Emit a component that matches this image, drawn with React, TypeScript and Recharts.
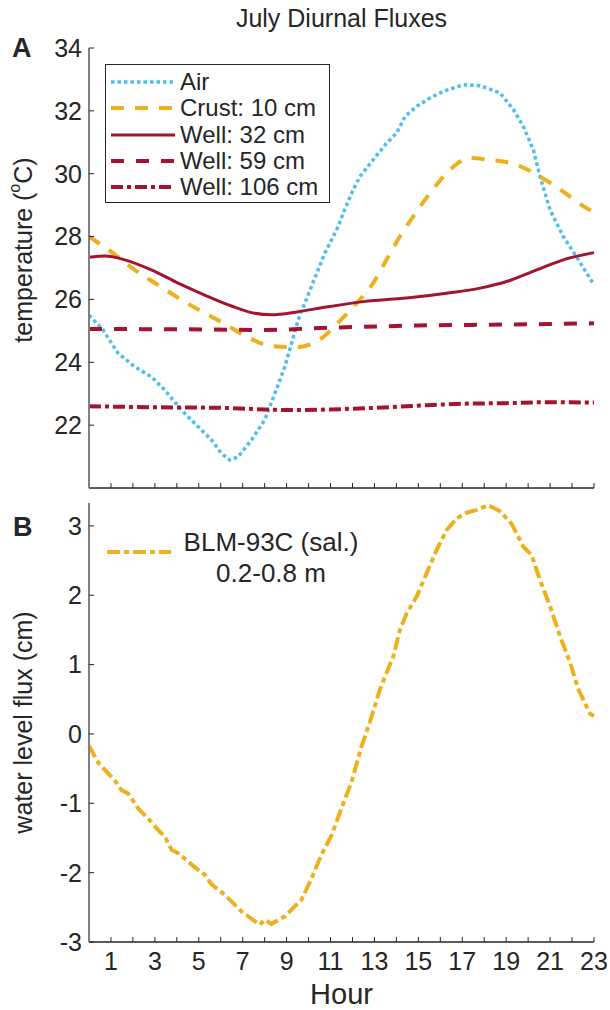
import React from 'react';
import { LineChart, Line, XAxis, YAxis, Label } from 'recharts';

const FONT = '"Liberation Sans", Arial, Helvetica, sans-serif';
const INK = '#262626';
const AXIS_GRAY = '#808080';
const SKY = '#4DBEEE';
const GOLD = '#EDB120';
const WINE = '#A2142F';

// axis ticks
const hourTicks = [0, 1, 2, 3, 4, 5, 6, 7, 8, 9, 10, 11, 12, 13, 14, 15, 16, 17, 18, 19, 20, 21, 22, 23];
const tempTicks = [22, 24, 26, 28, 30, 32, 34];
const fluxTicks = [-3, -2, -1, 0, 1, 2, 3];

// panel A — temperatures (°C)
const airHour = [0, 0.64, 1.32, 2.08, 2.84, 3.45, 4.21, 4.97, 5.58, 6.03, 6.41, 6.79, 7.4, 8.0, 8.46, 8.92, 9.53, 10.13, 10.74, 11.35, 11.58, 12.03, 12.34, 12.94, 13.55, 14.01, 14.39, 14.92, 15.53, 16.13, 17.05, 17.81, 18.72, 19.33, 19.78, 20.24, 20.54, 21.0, 21.6, 22.2, 23];
const airTemp = [25.5, 25.03, 24.29, 23.86, 23.54, 23.12, 22.48, 21.95, 21.53, 21.1, 20.89, 20.99, 21.53, 22.16, 23.0, 23.86, 25.35, 26.41, 27.47, 28.32, 28.75, 29.49, 29.91, 30.44, 30.97, 31.29, 31.82, 32.14, 32.41, 32.62, 32.83, 32.8, 32.57, 32.04, 31.5, 30.76, 29.91, 28.85, 28.0, 27.36, 26.46];

const crustHour = [0, 1.2, 2.08, 3.1, 4.09, 5.15, 6.14, 7.17, 8.27, 9.41, 10.52, 11.43, 12.19, 12.94, 13.55, 14.16, 14.77, 15.53, 16.29, 17.35, 18.26, 19.48, 20.54, 21.6, 22.67, 23];
const crustTemp = [28.0, 27.42, 26.94, 26.48, 26.04, 25.61, 25.24, 24.82, 24.52, 24.48, 24.73, 25.32, 25.88, 26.52, 27.26, 28.0, 28.64, 29.38, 30.02, 30.5, 30.44, 30.28, 29.91, 29.43, 28.9, 28.78];

const well32Hour = [0, 0.72, 1.63, 2.84, 4.06, 5.27, 6.49, 7.4, 8.31, 9.53, 10.74, 12.49, 14.77, 16.29, 17.81, 19.02, 20.39, 21.6, 23];
const well32Temp = [27.34, 27.38, 27.26, 26.94, 26.52, 26.14, 25.79, 25.58, 25.51, 25.61, 25.75, 25.93, 26.07, 26.2, 26.36, 26.57, 26.94, 27.26, 27.49];

const well59Hour = [0, 4, 8, 11, 15, 19, 23];
const well59Temp = [25.06, 25.05, 25.03, 25.1, 25.17, 25.2, 25.24];

const well106Hour = [0, 3, 6, 8, 9, 11, 13, 15, 17, 19, 21, 23];
const well106Temp = [22.6, 22.57, 22.55, 22.5, 22.48, 22.5, 22.55, 22.62, 22.68, 22.7, 22.73, 22.72];

// panel B — water level flux (cm)
const blmHour = [0, 0.41, 1.17, 1.48, 1.78, 2.23, 2.84, 3.07, 3.45, 3.76, 4.06, 4.97, 5.27, 5.58, 6.19, 6.95, 7.55, 7.78, 8.0, 8.31, 8.92, 9.68, 10.14, 10.59, 11.05, 11.5, 11.96, 12.42, 12.79, 13.25, 13.55, 13.86, 14.16, 14.47, 14.92, 15.38, 15.83, 16.29, 16.75, 17.2, 17.66, 18.19, 18.72, 19.25, 19.78, 20.16, 20.54, 21.0, 21.45, 21.91, 22.29, 22.82, 23];
const blmFlux = [-0.17, -0.41, -0.67, -0.81, -0.86, -1.07, -1.27, -1.36, -1.48, -1.67, -1.72, -1.96, -2.03, -2.17, -2.32, -2.56, -2.7, -2.75, -2.68, -2.74, -2.63, -2.39, -2.08, -1.74, -1.46, -1.07, -0.69, -0.17, 0.17, 0.64, 0.88, 1.12, 1.5, 1.74, 1.98, 2.32, 2.65, 2.94, 3.11, 3.19, 3.23, 3.3, 3.21, 3.03, 2.7, 2.58, 2.22, 1.84, 1.41, 1.03, 0.64, 0.29, 0.26];

const zip = (hs: number[], vs: number[]) => hs.map((h, i) => ({ h, v: vs[i] }));

const tempSeries = [
  { name: 'Air', data: zip(airHour, airTemp), color: SKY, width: 3.5, dash: '3.5 3', type: 'linear' },
  { name: 'Crust: 10 cm', data: zip(crustHour, crustTemp), color: GOLD, width: 4, dash: '13 11', type: 'monotone' },
  { name: 'Well: 32 cm', data: zip(well32Hour, well32Temp), color: WINE, width: 3, dash: undefined, type: 'monotone' },
  { name: 'Well: 59 cm', data: zip(well59Hour, well59Temp), color: WINE, width: 4, dash: '13 12', type: 'monotone' },
  { name: 'Well: 106 cm', data: zip(well106Hour, well106Temp), color: WINE, width: 4, dash: '12 4 4 4', type: 'monotone' },
];

const blmSeries = { name: 'BLM-93C (sal.)', sub: '0.2-0.8 m', data: zip(blmHour, blmFlux), color: GOLD, width: 4, dash: '13 4 5 4' };

const tickStyle = { fill: INK, fontSize: 25, fontFamily: FONT };

const TempLabel = () => {
  const cx = 23;
  const cy = 250;
  return (
    <text x={cx} y={cy} transform={`rotate(-90 ${cx} ${cy})`} textAnchor="middle" dominantBaseline="central"
      fill={INK} fontSize={25} fontFamily={FONT}>
      temperature (<tspan dy={-9} fontSize={16}>o</tspan><tspan dy={9}>C)</tspan>
    </text>
  );
};

const FluxLabel = ({ viewBox }: any) => {
  const cx = 23;
  const cy = viewBox.y + viewBox.height / 2;
  return (
    <text x={cx} y={cy} transform={`rotate(-90 ${cx} ${cy})`} textAnchor="middle" dominantBaseline="central"
      fill={INK} fontSize={25} fontFamily={FONT}>
      water level flux (cm)
    </text>
  );
};

const HourLabel = ({ viewBox }: any) => (
  <text x={viewBox.x + viewBox.width / 2} y={viewBox.y + 52} textAnchor="middle" dominantBaseline="central"
    fill={INK} fontSize={29} fontFamily={FONT}>
    Hour
  </text>
);

const Sample = ({ color, width, dash }: any) => (
  <svg width={64} height={10} style={{ display: 'block', flexShrink: 0 }}>
    <line x1={0} y1={5} x2={64} y2={5} stroke={color} strokeWidth={width} strokeDasharray={dash} />
  </svg>
);

export default function App() {
  return (
    <div style={{ position: 'absolute', left: 0, top: 0, width: 610, height: 1010, background: '#fff', fontFamily: FONT, color: INK }}>

      {/* title + panel letters */}
      <div style={{ position: 'absolute', left: 0, width: 683, top: 4, textAlign: 'center', fontSize: 25, lineHeight: '28px' }}>
        July Diurnal Fluxes
      </div>
      <div style={{ position: 'absolute', left: 12, top: 33, fontSize: 27, fontWeight: 700, lineHeight: '30px' }}>A</div>
      <div style={{ position: 'absolute', left: 13, top: 512, fontSize: 27, fontWeight: 700, lineHeight: '30px' }}>B</div>

      {/* ── Panel A ── */}
      <div style={{ position: 'absolute', left: 0, top: 0 }}>
        <LineChart width={610} height={500} margin={{ top: 48, right: 16, bottom: 0, left: 0 }}>
          <XAxis type="number" dataKey="h" domain={[0, 23]} ticks={hourTicks} interval={0} height={12}
            tickSize={-5} tickFormatter={() => ''} axisLine={{ stroke: INK, strokeWidth: 1.5 }} tickLine={{ stroke: INK }} />
          <YAxis type="number" domain={[20, 34]} ticks={tempTicks} interval={0} width={89}
            tickSize={-5} tickMargin={12} tick={tickStyle}
            axisLine={{ stroke: AXIS_GRAY, strokeWidth: 2 }} tickLine={{ stroke: INK }}>
            <Label content={<TempLabel />} />
          </YAxis>
          {tempSeries.map(s => (
            <Line key={s.name} data={s.data} dataKey="v" type={s.type as any} stroke={s.color} strokeWidth={s.width}
              strokeDasharray={s.dash} dot={false} activeDot={false} isAnimationActive={false} />
          ))}
        </LineChart>
      </div>

      {/* legend A */}
      <div style={{ position: 'absolute', left: 105, top: 64, width: 223, height: 137, border: `1px solid ${INK}`, background: '#fff' }}>
        {tempSeries.map((s, i) => (
          <div key={s.name} style={{ position: 'absolute', left: 5, top: 4 + i * 26.3, height: 26, display: 'flex', alignItems: 'center', gap: 5, fontSize: 24, whiteSpace: 'nowrap' }}>
            <Sample color={s.color} width={s.width} dash={s.dash} />
            <span>{s.name}</span>
          </div>
        ))}
      </div>

      {/* ── Panel B ── */}
      <div style={{ position: 'absolute', left: 0, top: 490 }}>
        <LineChart width={610} height={520} margin={{ top: 13, right: 16, bottom: 0, left: 0 }}>
          <XAxis type="number" dataKey="h" domain={[0, 23]} ticks={hourTicks} interval={0} height={68}
            tickSize={-5} tickMargin={15} tick={tickStyle}
            tickFormatter={(v: number) => (v % 2 === 1 ? String(v) : '')}
            axisLine={{ stroke: INK, strokeWidth: 1.5 }} tickLine={{ stroke: INK }}>
            <Label content={<HourLabel />} />
          </XAxis>
          <YAxis type="number" domain={[-3, 3.33]} ticks={fluxTicks} interval={0} width={89}
            tickSize={-5} tickMargin={12} tick={tickStyle}
            axisLine={{ stroke: AXIS_GRAY, strokeWidth: 2 }} tickLine={{ stroke: INK }}>
            <Label content={<FluxLabel />} />
          </YAxis>
          <Line data={blmSeries.data} dataKey="v" type="linear" stroke={blmSeries.color} strokeWidth={blmSeries.width}
            strokeDasharray={blmSeries.dash} dot={false} activeDot={false} isAnimationActive={false} />
        </LineChart>
      </div>

      {/* legend B */}
      <div style={{ position: 'absolute', left: 107, top: 547 }}>
        <Sample color={blmSeries.color} width={blmSeries.width} dash={blmSeries.dash} />
      </div>
      <div style={{ position: 'absolute', left: 176, top: 527, width: 190, textAlign: 'center', fontSize: 26, lineHeight: '31px' }}>
        <div>{blmSeries.name}</div>
        <div>{blmSeries.sub}</div>
      </div>
    </div>
  );
}
